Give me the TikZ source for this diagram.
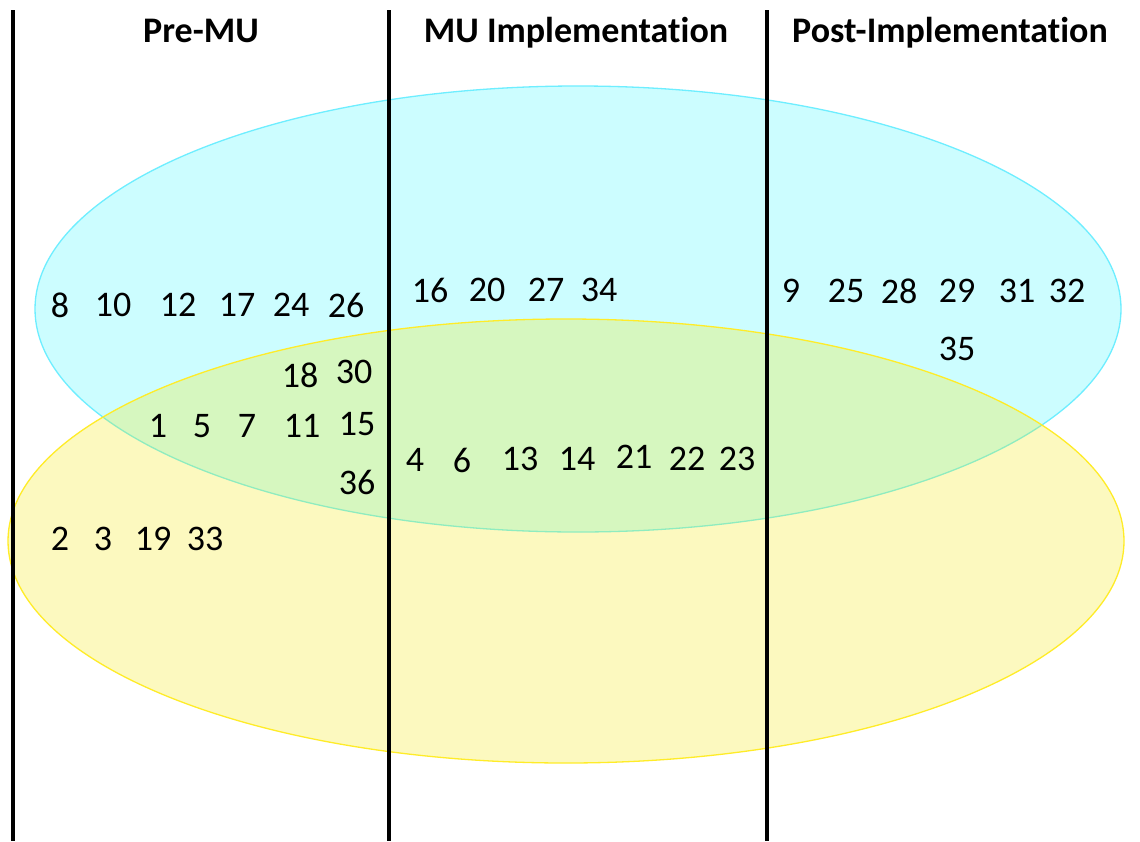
\documentclass[tikz,border=0pt]{standalone}
\usepackage{fontspec}
\setmainfont{Carlito}[Ligatures=NoCommon]
\definecolor{setAfill}{RGB}{0,245,255}
\definecolor{setAline}{RGB}{110,238,255}
\definecolor{setBfill}{RGB}{245,232,0}
\definecolor{setBline}{RGB}{255,236,40}
\begin{document}
\begin{tikzpicture}[x=1pt,y=-1pt,
  phase/.style={font=\fontsize{36}{40}\selectfont\bfseries, inner sep=0pt, anchor=base},
  num/.style={font=\fontsize{36}{40}\selectfont, inner sep=0pt},
  divider/.style={line width=4pt, black},
  setA/.style={fill=setAfill, fill opacity=0.2, draw=setAline, draw opacity=1, line width=1.3pt},
  setB/.style={fill=setBfill, fill opacity=0.25, draw=setBline, draw opacity=1, line width=1.3pt}]
\useasboundingbox (0,0) rectangle (1140,841);
\fill[white] (0,0) rectangle (1140,841);
% the two sets
\draw[setA] (578,309) ellipse [x radius=543, y radius=223];
\draw[setB] (566,541) ellipse [x radius=558, y radius=222];
% phase dividers
\coordinate (d1t) at (13,10);  \coordinate (d1b) at (13,841);
\coordinate (d2t) at (389,10); \coordinate (d2b) at (389,841);
\coordinate (d3t) at (767,10); \coordinate (d3b) at (767,841);
\draw[divider] (d1t) -- (d1b);
\draw[divider] (d2t) -- (d2b);
\draw[divider] (d3t) -- (d3b);
% phase titles
\node[phase] (pre)  at (201,42) {Pre-MU};
\node[phase] (impl) at (576,42) {MU Implementation};
\node[phase] (post) at (950,42) {Post-Implementation};
% Pre-MU items
\node[num] (n8)  at (60,305)  {8};
\node[num] (n10) at (113,305) {10};
\node[num] (n12) at (178,305) {12};
\node[num] (n17) at (237,305) {17};
\node[num] (n24) at (291,305) {24};
\node[num] (n26) at (346,305) {26};
\node[num] (n18) at (300,375) {18};
\node[num] (n30) at (354,372) {30};
\node[num] (n1)  at (158,426) {1};
\node[num] (n5)  at (202,426) {5};
\node[num] (n7)  at (247,426) {7};
\node[num] (n11) at (302,426) {11};
\node[num] (n15) at (357,424) {15};
\node[num] (n36) at (357,482) {36};
\node[num] (n2)  at (60,539)  {2};
\node[num] (n3)  at (103,539) {3};
\node[num] (n19) at (153,539) {19};
\node[num] (n33) at (205,539) {33};
% MU Implementation items
\node[num] (n16) at (430,290) {16};
\node[num] (n20) at (487,290) {20};
\node[num] (n27) at (546,290) {27};
\node[num] (n34) at (599,290) {34};
\node[num] (n4)  at (415,460) {4};
\node[num] (n6)  at (462,460) {6};
\node[num] (n13) at (520,459) {13};
\node[num] (n14) at (577,459) {14};
\node[num] (n21) at (634,457) {21};
\node[num] (n22) at (687,459) {22};
\node[num] (n23) at (737,459) {23};
% Post-Implementation items
\node[num] (n9)  at (791,291)  {9};
\node[num] (n25) at (846,291)  {25};
\node[num] (n28) at (899,291)  {28};
\node[num] (n29) at (957,291)  {29};
\node[num] (n31) at (1017,291) {31};
\node[num] (n32) at (1067,291) {32};
\node[num] (n35) at (957,349)  {35};
\end{tikzpicture}
\end{document}
